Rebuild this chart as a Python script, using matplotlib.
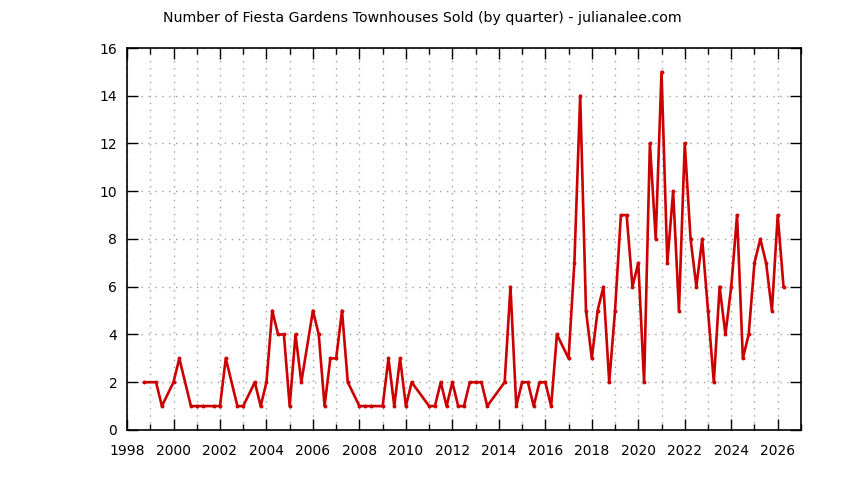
import matplotlib
matplotlib.use("Agg")
import matplotlib.pyplot as plt
from matplotlib.ticker import MultipleLocator

# Sales per quarter (year, quarter, count); quarters with no sales are simply absent
years = [1998, 1999, 1999, 2000, 2000, 2000, 2001, 2001, 2001, 2002, 2002, 2002,
         2003, 2003, 2003, 2004, 2004, 2004, 2004, 2005, 2005, 2005, 2006, 2006,
         2006, 2006, 2007, 2007, 2007, 2008, 2008, 2008, 2009, 2009, 2009, 2009,
         2010, 2010, 2011, 2011, 2011, 2011, 2012, 2012, 2012, 2012, 2013, 2013,
         2013, 2014, 2014, 2014, 2015, 2015, 2015, 2015, 2016, 2016, 2016, 2017,
         2017, 2017, 2017, 2018, 2018, 2018, 2018, 2019, 2019, 2019, 2019, 2020,
         2020, 2020, 2020, 2021, 2021, 2021, 2021, 2022, 2022, 2022, 2022, 2023,
         2023, 2023, 2023, 2024, 2024, 2024, 2024, 2025, 2025, 2025, 2025, 2026,
         2026]
quarters = [4, 2, 3, 1, 2, 4, 1, 2, 4, 1, 2, 4,
            1, 3, 4, 1, 2, 3, 4, 1, 2, 3, 1, 2,
            3, 4, 1, 2, 3, 1, 2, 3, 1, 2, 3, 4,
            1, 2, 1, 2, 3, 4, 1, 2, 3, 4, 1, 2,
            3, 2, 3, 4, 1, 2, 3, 4, 1, 2, 3, 1,
            2, 3, 4, 1, 2, 3, 4, 1, 2, 3, 4, 1,
            2, 3, 4, 1, 2, 3, 4, 1, 2, 3, 4, 1,
            2, 3, 4, 1, 2, 3, 4, 1, 2, 3, 4, 1,
            2]
sold = [2, 2, 1, 2, 3, 1, 1, 1, 1, 1, 3, 1,
        1, 2, 1, 2, 5, 4, 4, 1, 4, 2, 5, 4,
        1, 3, 3, 5, 2, 1, 1, 1, 1, 3, 1, 3,
        1, 2, 1, 1, 2, 1, 2, 1, 1, 2, 2, 2,
        1, 2, 6, 1, 2, 2, 1, 2, 2, 1, 4, 3,
        7, 14, 5, 3, 5, 6, 2, 5, 9, 9, 6, 7,
        2, 12, 8, 15, 7, 10, 5, 12, 8, 6, 8, 5,
        2, 6, 4, 6, 9, 3, 4, 7, 8, 7, 5, 9,
        6]

x = [y + (q - 1) / 4 for y, q in zip(years, quarters)]

plt.rcParams["font.family"] = "DejaVu Sans"
fig = plt.figure(figsize=(8.44, 4.80), dpi=100)
ax = fig.add_axes([0.1505, 0.1042, 0.7985, 0.7958])

ax.plot(x, sold, color="#cc0000", linewidth=1.9, marker="o", markersize=2.8,
        markeredgewidth=0, zorder=3)

ax.set_xlim(1998, 2027)
ax.set_ylim(0, 16)
ax.xaxis.set_major_locator(MultipleLocator(2))
ax.xaxis.set_minor_locator(MultipleLocator(1))
ax.yaxis.set_major_locator(MultipleLocator(2))

ax.tick_params(axis="both", which="major", direction="in", length=8, width=1,
               top=True, right=True, labelsize=10, colors="black")
ax.tick_params(axis="x", which="major", pad=10)
ax.tick_params(axis="y", which="major", pad=7)
ax.tick_params(axis="both", which="minor", direction="in", length=4, width=1,
               top=True, right=True)

ax.grid(True, which="both", axis="x", color="#a0a0a0", linestyle=(0, (1, 4)), linewidth=1)
ax.grid(True, which="major", axis="y", color="#a0a0a0", linestyle=(0, (1, 4)), linewidth=1)
ax.set_axisbelow(True)

for s in ax.spines.values():
    s.set_linewidth(1.2)

fig.text(0.5, 0.962, "Number of Fiesta Gardens Townhouses Sold (by quarter) - julianalee.com",
         ha="center", va="center", fontsize=10.2)

fig.savefig("out.png", dpi=100)
